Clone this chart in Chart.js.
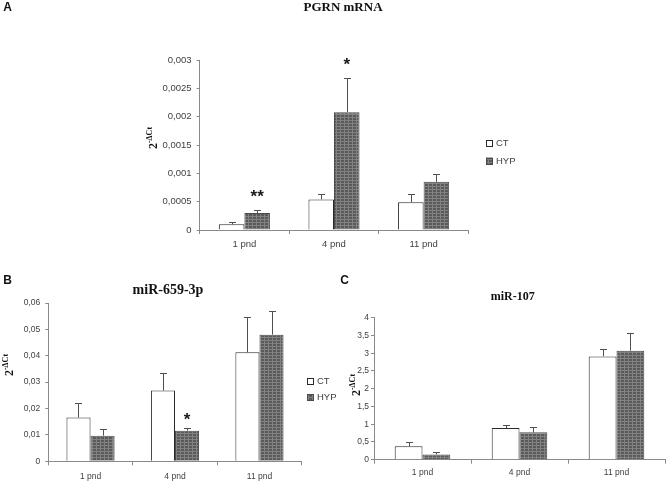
<!DOCTYPE html>
<html>
<head>
<meta charset="utf-8">
<script src="https://cdn.jsdelivr.net/npm/chart.js@4.4.0/dist/chart.umd.min.js"></script>
<style>
  html, body { margin: 0; padding: 0; background: #fff; }
  body { width: 669px; height: 483px; position: relative; overflow: hidden; }
  canvas { position: absolute; }
  #chartA { left: 0; top: 0; }
  #chartB { left: 0; top: 262px; }
  #chartC { left: 340px; top: 262px; }
</style>
</head>
<body>
<canvas id="chartA" width="669" height="262"></canvas>
<canvas id="chartB" width="345" height="221"></canvas>
<canvas id="chartC" width="329" height="221"></canvas>
<script>
// --- Data ---
const categories = ['1 pnd', '4 pnd', '11 pnd'];
const seriesNames = ['CT', 'HYP'];

// A: PGRN mRNA
const pgrnCT = [0.0001, 0.00054, 0.00049];
const pgrnCTErr = [0.000035, 0.00009, 0.00014];
const pgrnHYP = [0.0003, 0.00208, 0.00085];
const pgrnHYPErr = [0.00005, 0.00061, 0.00013];
const pgrnStars = ['**', '*', ''];
const pgrnTicks = ['0', '0,0005', '0,001', '0,0015', '0,002', '0,0025', '0,003'];

// B: miR-659-3p
const mir659CT = [0.0166, 0.0268, 0.0413];
const mir659CTErr = [0.0054, 0.0065, 0.0134];
const mir659HYP = [0.0097, 0.0116, 0.048];
const mir659HYPErr = [0.0024, 0.001, 0.0091];
const mir659Stars = ['', '*', ''];
const mir659Ticks = ['0', '0,01', '0,02', '0,03', '0,04', '0,05', '0,06'];

// C: miR-107
const mir107CT = [0.38, 0.89, 2.91];
const mir107CTErr = [0.11, 0.08, 0.22];
const mir107HYP = [0.15, 0.77, 3.07];
const mir107HYPErr = [0.06, 0.15, 0.49];
const mir107Stars = ['', '', ''];
const mir107Ticks = ['0', '0,5', '1', '1,5', '2', '2,5', '3', '3,5', '4'];

// --- Styling helpers ---
const AXIS = '#8a8a8a';
const TEXT = '#404040';
const SANS = '"Liberation Sans", Arial, sans-serif';
const SERIF = '"Liberation Serif", "Times New Roman", serif';

function hypFill(ctx) {
    const c = document.createElement('canvas');
    c.width = 4; c.height = 3;
    const g = c.getContext('2d');
    g.fillStyle = '#5a5a5a';
    g.fillRect(0, 0, 4, 3);
    g.fillStyle = '#828282';
    g.fillRect(0, 0, 4, 1);
    g.fillRect(0, 0, 1, 3);
    return ctx.createPattern(c, 'repeat');
}

// error bars + significance stars, positioned through the y scale
const errorBars = {
    id: 'errorBars',
    afterDatasetsDraw(chart, args, opts) {
        const { ctx } = chart;
        const y = chart.scales.y;
        ctx.save();
        chart.data.datasets.forEach((ds, i) => {
            chart.getDatasetMeta(i).data.forEach((bar, j) => {
                const x = Math.round(bar.x) + 0.5;
                const top = Math.round(y.getPixelForValue(ds.data[j] + ds.err[j])) + 0.5;
                ctx.strokeStyle = '#505050';
                ctx.lineWidth = 1;
                ctx.beginPath();
                ctx.moveTo(x, bar.y);
                ctx.lineTo(x, top);
                ctx.moveTo(x - 3.5, top);
                ctx.lineTo(x + 3.5, top);
                ctx.stroke();
                if (ds.stars && ds.stars[j]) {
                    ctx.fillStyle = '#1a1a1a';
                    ctx.font = 'bold 17px ' + SANS;
                    ctx.textAlign = 'center';
                    ctx.textBaseline = 'middle';
                    ctx.fillText(ds.stars[j], bar.x, top - opts.starGap);
                }
            });
        });
        ctx.restore();
    }
};

// panel letter, title, y axis title and legend
const panelText = {
    id: 'panelText',
    afterDraw(chart, args, o) {
        const { ctx } = chart;
        ctx.save();
        ctx.fillStyle = '#111';
        ctx.textBaseline = 'middle';
        ctx.textAlign = 'center';
        ctx.font = 'bold 12px ' + SANS;
        ctx.fillText(o.letter, o.letterX, o.letterY);
        ctx.font = 'bold ' + o.titleSize + 'px ' + SERIF;
        ctx.fillText(o.title, o.titleX, o.titleY);

        // rotated "2-ΔCt"
        ctx.translate(o.ylabX, o.ylabY);
        ctx.rotate(-Math.PI / 2);
        ctx.textAlign = 'left';
        ctx.textBaseline = 'alphabetic';
        ctx.font = 'bold 12px ' + SERIF;
        const w1 = ctx.measureText('2').width;
        ctx.font = 'bold 8px ' + SERIF;
        const w2 = ctx.measureText('-\u0394Ct').width;
        const x0 = -(w1 + w2) / 2;
        ctx.font = 'bold 12px ' + SERIF;
        ctx.fillText('2', x0, 4);
        ctx.font = 'bold 8px ' + SERIF;
        ctx.fillText('-\u0394Ct', x0 + w1, -1);
        ctx.setTransform(1, 0, 0, 1, 0, 0);

        if (o.legend) {
            ctx.font = '9.5px ' + SANS;
            ctx.textAlign = 'left';
            ctx.textBaseline = 'middle';
            chart.data.datasets.forEach((ds, i) => {
                const ly = o.legendY + i * o.legendGap;
                ctx.fillStyle = ds.backgroundColor;
                ctx.fillRect(o.legendX, ly - 3.5, 7, 7);
                ctx.strokeStyle = ds.borderColor;
                ctx.lineWidth = 1;
                ctx.strokeRect(o.legendX + 0.5, Math.round(ly - 3.5) + 0.5, 6, 6);
                ctx.fillStyle = TEXT;
                ctx.fillText(ds.label, o.legendX + 10, ly);
            });
        }
        ctx.restore();
    }
};

function barChart(id, ct, ctErr, hyp, hypErr, stars, yMax, yStep, yTicks, p) {
    const canvas = document.getElementById(id);
    const ctx = canvas.getContext('2d');
    const common = { borderWidth: 1, borderSkipped: 'start', categoryPercentage: p.cat, barPercentage: 1 };
    return new Chart(ctx, {
        type: 'bar',
        data: {
            labels: categories,
            datasets: [
                Object.assign({ label: seriesNames[0], data: ct, err: ctErr, stars: [], backgroundColor: '#ffffff', borderColor: '#2a2a2a' }, common),
                Object.assign({ label: seriesNames[1], data: hyp, err: hypErr, stars: stars, backgroundColor: hypFill(ctx), borderColor: '#4a4a4a' }, common)
            ]
        },
        options: {
            responsive: false,
            animation: false,
            devicePixelRatio: 1,
            layout: { padding: p.pad },
            plugins: {
                legend: { display: false },
                tooltip: { enabled: false },
                errorBars: { starGap: p.starGap },
                panelText: p.text
            },
            scales: {
                x: {
                    offset: true,
                    grid: { offset: true, drawOnChartArea: false, tickLength: 4, color: AXIS },
                    border: { color: AXIS },
                    ticks: { font: { family: SANS, size: p.xFont }, color: TEXT, padding: p.xPad },
                    afterFit: s => { s.height = p.xh; }
                },
                y: {
                    min: 0,
                    max: yMax,
                    ticks: {
                        stepSize: yStep,
                        callback: (v, i) => yTicks[i],
                        font: { family: SANS, size: p.yFont },
                        color: TEXT,
                        padding: p.yPad
                    },
                    grid: { drawOnChartArea: false, tickLength: 3, color: AXIS },
                    border: { color: AXIS },
                    afterFit: s => { s.width = p.yw; }
                }
            }
        },
        plugins: [errorBars, panelText]
    });
}

barChart('chartA', pgrnCT, pgrnCTErr, pgrnHYP, pgrnHYPErr, pgrnStars, 0.003, 0.0005, pgrnTicks, {
    pad: { left: 149.6, right: 200.6, top: 60, bottom: 10 },
    yw: 50, xh: 22, cat: 0.57, xFont: 9.5, yFont: 9.5, xPad: 5, yPad: 5, starGap: 13,
    text: {
        letter: 'A', letterX: 7.5, letterY: 8,
        title: 'PGRN mRNA', titleX: 343, titleY: 8, titleSize: 13,
        ylabX: 153, ylabY: 138,
        legend: true, legendX: 486, legendY: 143, legendGap: 18
    }
});

barChart('chartB', mir659CT, mir659CTErr, mir659HYP, mir659HYPErr, mir659Stars, 0.06, 0.01, mir659Ticks, {
    pad: { left: 10.3, right: 43.3, top: 41, bottom: 1.7 },
    yw: 38, xh: 20, cat: 0.57, xFont: 8.5, yFont: 8.5, xPad: 6, yPad: 5, starGap: 8,
    text: {
        letter: 'B', letterX: 7.5, letterY: 19,
        title: 'miR-659-3p', titleX: 168, titleY: 28, titleSize: 14,
        ylabX: 9, ylabY: 103,
        legend: true, legendX: 307, legendY: 119, legendGap: 16.5
    }
});

barChart('chartC', mir107CT, mir107CTErr, mir107HYP, mir107HYPErr, mir107Stars, 4, 0.5, mir107Ticks, {
    pad: { left: 10, right: 4, top: 55.7, bottom: 3.3 },
    yw: 24, xh: 20, cat: 0.573, xFont: 8.5, yFont: 8.5, xPad: 4, yPad: 2, starGap: 8,
    text: {
        letter: 'C', letterX: 4.5, letterY: 19,
        title: 'miR-107', titleX: 172.7, titleY: 34.7, titleSize: 12,
        ylabX: 16, ylabY: 123,
        legend: false
    }
});
</script>
</body>
</html>
